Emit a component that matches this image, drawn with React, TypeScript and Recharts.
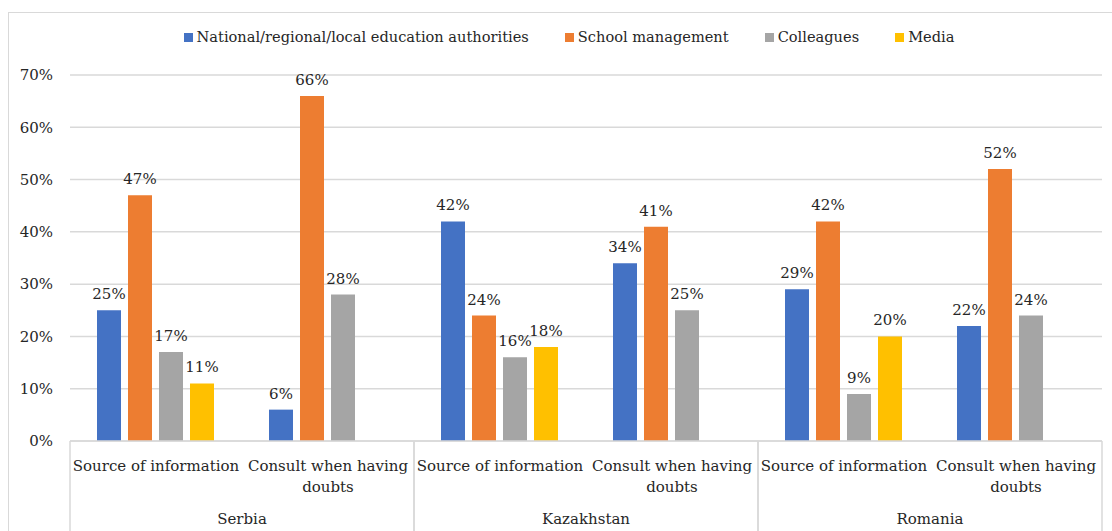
import { BarChart, Bar, XAxis, YAxis, CartesianGrid, LabelList } from 'recharts'

const countries = ['Serbia', 'Serbia', 'Kazakhstan', 'Kazakhstan', 'Romania', 'Romania']
const questions = [
  'Source of information',
  'Consult when having doubts',
  'Source of information',
  'Consult when having doubts',
  'Source of information',
  'Consult when having doubts',
]
const authorities = [25, 6, 42, 34, 29, 22]
const management = [47, 66, 24, 41, 42, 52]
const colleagues = [17, 28, 16, 25, 9, 24]
const media = [11, null, 18, null, 20, null]
const yTicks = [0, 10, 20, 30, 40, 50, 60, 70]

const series = [
  { key: 'authorities', name: 'National/regional/local education authorities', color: '#4472C4' },
  { key: 'management', name: 'School management', color: '#ED7D31' },
  { key: 'colleagues', name: 'Colleagues', color: '#A5A5A5' },
  { key: 'media', name: 'Media', color: '#FFC000' },
]

const data = questions.map((q, i) => ({
  question: q,
  country: countries[i],
  authorities: authorities[i],
  management: management[i],
  colleagues: colleagues[i],
  media: media[i],
}))

const FONT = '"DejaVu Serif", serif'
const TEXT = '#262626'
const GRID = '#D9D9D9'

const W = 1104
const H = 518
const M = { top: 62, right: 11, left: 0, bottom: 0 }
const Y_W = 61
const X_H = 90
const BAND = (W - M.left - M.right - Y_W) / data.length

if (typeof document !== 'undefined') document.body.style.overflow = 'hidden'

function wrap(text: string, max: number) {
  const lines: string[] = []
  let cur = ''
  for (const w of text.split(' ')) {
    if (cur && (cur + ' ' + w).length > max) {
      lines.push(cur)
      cur = w
    } else cur = cur ? cur + ' ' + w : w
  }
  if (cur) lines.push(cur)
  return lines
}

function CategoryTick({ x, y, payload, index }: any) {
  const lines = wrap(String(payload.value), 21)
  const row = data[index]
  const first = index % 2 === 0
  const last = index === data.length - 1
  return (
    <g>
      {lines.map((l, i) => (
        <text key={i} x={x} y={y + 30 + i * 21} textAnchor="middle" fill={TEXT} fontSize={15} fontFamily={FONT}>
          {l}
        </text>
      ))}
      {first && <line x1={x - BAND / 2} x2={x - BAND / 2} y1={y} y2={y + X_H} stroke={GRID} strokeWidth={1.5} />}
      {(last || !first) && <line x1={x + BAND / 2} x2={x + BAND / 2} y1={y} y2={y + X_H} stroke={GRID} strokeWidth={1.5} />}
      {first && row && (
        <text x={x + BAND / 2} y={y + 83} textAnchor="middle" fill={TEXT} fontSize={15} fontFamily={FONT}>
          {row.country}
        </text>
      )}
    </g>
  )
}

export default function App() {
  return (
    <div
      style={{
        position: 'absolute',
        left: 8,
        top: 12,
        width: 1110,
        height: 530,
        border: `1px solid ${GRID}`,
        background: '#fff',
      }}
    >
      <div
        style={{
          position: 'absolute',
          top: 15,
          left: 0,
          width: 1120,
          display: 'flex',
          justifyContent: 'center',
          gap: 36,
          fontFamily: FONT,
          fontSize: 14.6,
          color: TEXT,
          lineHeight: '18px',
        }}
      >
        {series.map((s) => (
          <div key={s.key} style={{ display: 'flex', alignItems: 'center' }}>
            <span style={{ width: 9, height: 9, background: s.color, marginRight: 4, display: 'inline-block' }} />
            <span>{s.name}</span>
          </div>
        ))}
      </div>
      <BarChart width={W} height={H} data={data} margin={M} barCategoryGap={27} barGap={7}>
        <CartesianGrid vertical={false} stroke={GRID} strokeWidth={1.5} />
        <XAxis
          dataKey="question"
          axisLine={{ stroke: GRID, strokeWidth: 1.5 }}
          tickLine={false}
          tickSize={0}
          tickMargin={0}
          height={X_H}
          interval={0}
          tick={<CategoryTick />}
        />
        <YAxis
          domain={[0, 70]}
          ticks={yTicks}
          width={Y_W}
          axisLine={false}
          tickLine={false}
          tickMargin={11}
          tickFormatter={(v: number) => `${v}%`}
          tick={{ fill: TEXT, fontSize: 15, fontFamily: FONT }}
        />
        {series.map((s) => (
          <Bar key={s.key} dataKey={s.key} name={s.name} fill={s.color} isAnimationActive={false}>
            <LabelList
              dataKey={s.key}
              position="top"
              offset={11}
              fill={TEXT}
              fontSize={15}
              fontFamily={FONT}
              formatter={(v: any) => (v == null ? '' : `${v}%`)}
            />
          </Bar>
        ))}
      </BarChart>
    </div>
  )
}
